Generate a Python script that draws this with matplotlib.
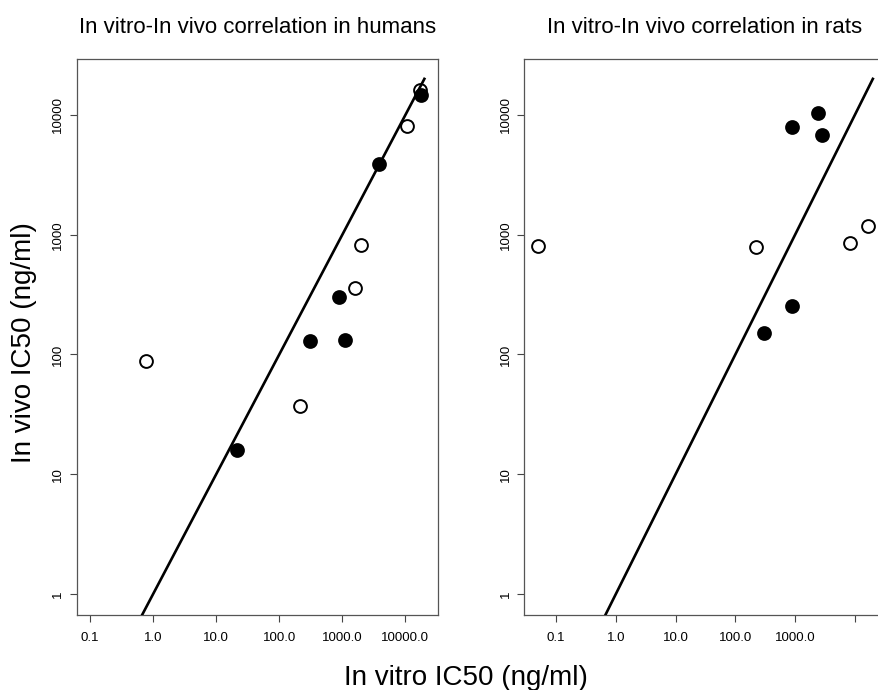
import matplotlib
matplotlib.use("Agg")
import matplotlib.pyplot as plt
import numpy as np

plt.rcParams['font.family'] = ['Liberation Sans', 'DejaVu Sans']

# dados (ng/ml)
human_open_x = [0.76, 210, 1600, 1960, 10800, 16800]
human_open_y = [89, 37, 360, 820, 8100, 16000]
human_filled_x = [21.5, 310, 870, 1100, 3800, 18000]
human_filled_y = [16, 130, 300, 131, 3900, 14700]

rat_open_x = [0.05, 224, 8200, 16400]
rat_open_y = [800, 790, 860, 1180]
rat_filled_x = [300, 890, 890, 2420, 2800]
rat_filled_y = [150, 256, 8000, 10400, 6800]

# linha de identidade
line_x = [0.1, 20000]
line_y = [0.1, 20000]

x_ticks = [0.1, 1, 10, 100, 1000, 10000]
x_labels_h = ["0.1", "1.0", "10.0", "100.0", "1000.0", "10000.0"]
x_labels_r = ["0.1", "1.0", "10.0", "100.0", "1000.0", ""]
y_ticks = [1, 10, 100, 1000, 10000]
y_labels = ["1", "10", "100", "1000", "10000"]

titles = ["In vitro-In vivo correlation in humans", "In vitro-In vivo correlation in rats"]

fig = plt.figure(figsize=(8.79, 6.9), dpi=100)
ax1 = fig.add_axes([0.0873, 0.1087, 0.4107, 0.8058])
ax2 = fig.add_axes([0.5965, 0.1087, 0.4107, 0.8058])

paineis = [
    (ax1, human_open_x, human_open_y, human_filled_x, human_filled_y, (0.0615, 32580), x_labels_h, titles[0]),
    (ax2, rat_open_x, rat_open_y, rat_filled_x, rat_filled_y, (0.0294, 32360), x_labels_r, titles[1]),
]

for ax, ox, oy, fx, fy, xl, xlab, tit in paineis:
    ax.set_xscale('log')
    ax.set_yscale('log')
    ax.scatter(ox, oy, s=85, facecolor='white', edgecolor='black', linewidth=1.4, zorder=2)
    ax.scatter(fx, fy, s=85, facecolor='black', edgecolor='black', linewidth=1.4, zorder=3)
    ax.plot(line_x, line_y, color='black', linewidth=1.9, zorder=4)
    ax.set_xlim(*xl)
    ax.set_ylim(0.668, 29310)
    ax.set_xticks(x_ticks)
    ax.set_xticklabels(xlab, fontsize=9.5)
    ax.set_yticks(y_ticks)
    ax.set_yticklabels(y_labels, fontsize=9.5, rotation=90, va='center')
    ax.minorticks_off()
    ax.tick_params(axis='x', length=5, width=0.8, color='#444444', pad=7)
    ax.tick_params(axis='y', length=5, width=0.8, color='#444444', pad=4)
    for sp in ax.spines.values():
        sp.set_color('#555555')
        sp.set_linewidth(0.9)
    ax.set_title(tit, fontsize=16, pad=18.5)

fig.text(24 / 879, 0.503, "In vivo IC50 (ng/ml)", rotation=90, ha='center', va='center', fontsize=20)
fig.text(466 / 879, 0.0072, "In vitro IC50 (ng/ml)", ha='center', va='baseline', fontsize=20)

fig.savefig('out.png', dpi=100)
